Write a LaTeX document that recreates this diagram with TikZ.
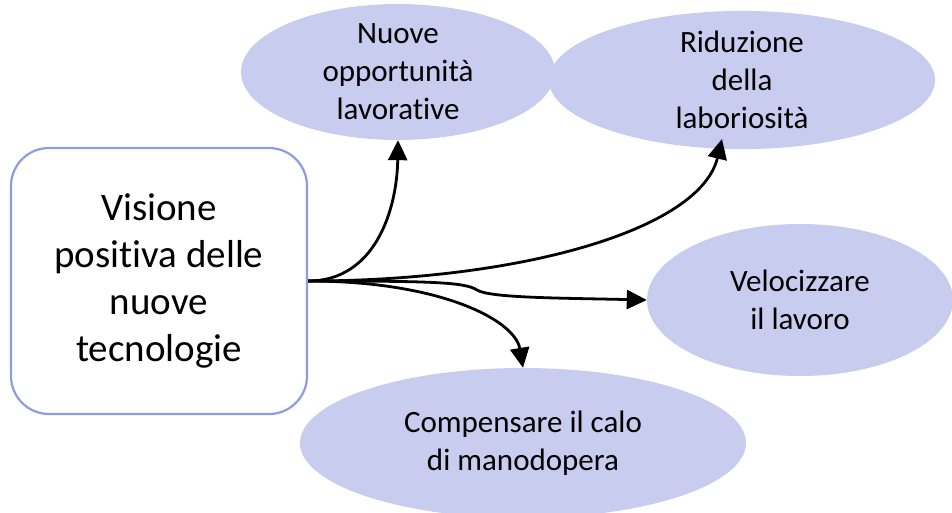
\documentclass[tikz,border=0pt]{standalone}
\usepackage{fontspec}
\setmainfont[Ligatures=NoCommon]{Carlito}
\usetikzlibrary{shapes.geometric,arrows.meta}
\definecolor{VLilac}{HTML}{C8CCEE}
\definecolor{VBorder}{HTML}{8E9CE0}
\tikzset{
    block/.style = {draw=VBorder, line width=2.2pt, rectangle, rounded corners=38pt,
        minimum height=266pt,
        minimum width=296pt, align=center,
        font=\fontsize{39}{47}\selectfont},
    bubble/.style = {ellipse, fill=VLilac, inner sep=0pt, align=center,
        font=\fontsize{31}{38}\selectfont},
    arrow/.style={draw, line width=2.8pt, -{Triangle[length=20pt,width=19pt]}}
}

\begin{document}
\begin{tikzpicture}[x=1pt,y=-1pt]
            \useasboundingbox (0,0) rectangle (952,512);
            \node[block] (visione) at (159,281) {Visione\\positiva delle\\nuove\\tecnologie};
            \node[bubble, minimum width=314pt, minimum height=122pt] (nuove) at (398,72) {Nuove\\opportunità\\lavorative};
            \node[bubble, minimum width=386pt, minimum height=122pt] (riduzione) at (742,80) {Riduzione\\della\\laboriosità};
            \node[bubble, minimum width=306pt, minimum height=152pt] (veloc) at (800,300) {Velocizzare\\il lavoro};
            \node[bubble, minimum width=446pt, minimum height=150pt] (compensa) at (523,443) {Compensare il calo\\di manodopera};
            \coordinate (kink) at (477,290);
            \draw[arrow] (visione.east) .. controls (375,281) and (397,210) .. (nuove.south);
            \draw[arrow] (visione.east) .. controls (520,281) and (700,230) .. (722,139);
            \draw[arrow] (visione.east) .. controls (430,281) and (465,282) .. (kink) .. controls (490,298) and (560,298) .. (veloc.west);
            \draw[arrow] (visione.east) .. controls (440,281) and (515,320) .. (compensa.north);
            \end{tikzpicture}
\end{document}
